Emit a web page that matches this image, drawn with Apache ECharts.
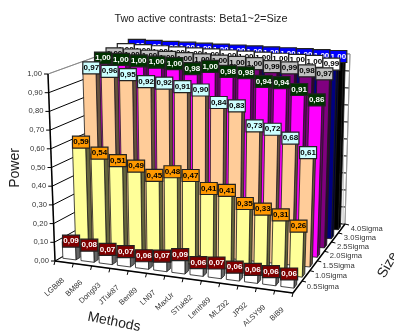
<!DOCTYPE html>
<html>
<head>
<meta charset="utf-8">
<style>
  html, body { margin: 0; padding: 0; background: #fff; }
  #main { width: 394px; height: 331px; }
</style>
<script src="https://cdn.jsdelivr.net/npm/echarts@6/dist/echarts.min.js"></script>
</head>
<body>
<div id="main"></div>
<script>
const methods = ['LGB88', 'BM86', 'Dong93', 'JTuk87', 'Ben89', 'LN97', 'MaxUr', 'STuk82', 'Lenth89', 'MLZ92', 'JP92', 'ALSY99', 'BiB9'];
const sizes = ['0.5Sigma', '1.0Sigma', '1.5Sigma', '2.0Sigma', '2.5Sigma', '3.0Sigma', '4.0Sigma'];
const yTicks = [0, 0.1, 0.2, 0.3, 0.4, 0.5, 0.6, 0.7, 0.8, 0.9, 1];

const size05 = [0.09, 0.08, 0.07, 0.07, 0.06, 0.07, 0.09, 0.06, 0.07, 0.06, 0.06, 0.06, 0.06];
const size10 = [0.59, 0.54, 0.51, 0.49, 0.45, 0.48, 0.47, 0.41, 0.41, 0.35, 0.33, 0.31, 0.26];
const size15 = [0.97, 0.96, 0.95, 0.92, 0.92, 0.91, 0.90, 0.84, 0.83, 0.73, 0.72, 0.68, 0.61];
const size20 = [1, 1, 1, 1, 1, 0.98, 1, 0.98, 0.98, 0.94, 0.94, 0.91, 0.86];
const size25 = [1, 1, 1, 1, 1, 1, 1, 1, 1, 0.99, 0.99, 0.98, 0.97];
const size30 = [1, 1, 1, 1, 1, 1, 1, 1, 1, 1, 1, 1, 0.99];
const size40 = [1, 1, 1, 1, 1, 1, 1, 1, 1, 1, 1, 1, 1];
const sizeValues = [size05, size10, size15, size20, size25, size30, size40];

const barColors = ['#ffffff', '#ffff99', '#ffcc99', '#ff00ff', '#800080', '#000080', '#000000'];
const labelColors = ['#800000', '#ff9900', '#ccffff', '#003300', '#c0c0c0', '#ffffff', '#0000ff'];
const labelTextColors = ['#ffffff', '#000000', '#000000', '#ffffff', '#000000', '#000000', '#ffffff'];

// corners of the 3d box on screen: floor and top plane
const floor = { fl: [55, 261], fr: [293, 293], br: [345, 224], bl: [136, 214] };
const roof = { fl: [48, 74], fr: [299, 100], br: [350, 54], bl: [134, 43] };

const mix = (a, b, t) => [a[0] + (b[0] - a[0]) * t, a[1] + (b[1] - a[1]) * t];

// u along methods, w along sizes, h along power, all 0..1
function project(u, w, h) {
  const d = Math.pow(w, 0.9); // far rows sit closer together
  const low = mix(mix(floor.fl, floor.fr, u), mix(floor.bl, floor.br, u), d);
  const high = mix(mix(roof.fl, roof.fr, u), mix(roof.bl, roof.br, u), d);
  return mix(low, high, h);
}

function toUnit(params, api, i, v) {
  const p = api.coord([i, v]);
  const rect = params.coordSys;
  return [(p[0] - rect.x) / rect.width, (rect.y + rect.height - p[1]) / rect.height];
}

function shade(color, f) {
  const c = echarts.color.parse(color);
  return 'rgb(' + [c[0] * f, c[1] * f, c[2] * f].map(Math.round).join(',') + ')';
}

function face(points, fill) {
  return {
    type: 'polygon',
    shape: { points: points },
    style: { fill: fill, stroke: '#1a1a1a', lineWidth: 0.8 }
  };
}

function renderBar(row) {
  return function (params, api) {
    const i = api.value(0);
    const [uc, h] = toUnit(params, api, i, api.value(1));
    const half = 0.36 / methods.length;
    const u0 = uc - half, u1 = uc + half;
    const w0 = (row + 0.34) / sizes.length, w1 = (row + 0.66) / sizes.length;
    const color = barColors[row];
    return {
      type: 'group',
      children: [
        face([project(u1, w0, 0), project(u1, w1, 0), project(u1, w1, h), project(u1, w0, h)], shade(color, 0.4)),
        face([project(u0, w0, h), project(u1, w0, h), project(u1, w1, h), project(u0, w1, h)], shade(color, 0.8)),
        face([project(u0, w0, 0), project(u1, w0, 0), project(u1, w0, h), project(u0, w0, h)], color)
      ]
    };
  };
}

function renderLabel(row) {
  return function (params, api) {
    const i = api.value(0);
    const v = api.value(1);
    const [uc, h] = toUnit(params, api, i, v);
    const p = project(uc, (row + 0.5) / sizes.length, h);
    const x = p[0], y = p[1];
    return {
      type: 'group',
      children: [
        {
          type: 'rect',
          shape: { x: x - 8.5, y: y - 6, width: 17, height: 12 },
          style: { fill: labelColors[row], stroke: '#222', lineWidth: 1.2 }
        },
        {
          type: 'text',
          x: x,
          y: y,
          style: {
            text: v.toFixed(2).replace('.', ','),
            align: 'center',
            verticalAlign: 'middle',
            fill: labelTextColors[row],
            font: 'bold 8px "Liberation Sans"'
          }
        }
      ]
    };
  };
}

function line(a, b, stroke, width) {
  return {
    type: 'line',
    shape: { x1: a[0], y1: a[1], x2: b[0], y2: b[1] },
    style: { stroke: stroke, lineWidth: width }
  };
}

function tickText(text, x, y, align, rotation) {
  return {
    type: 'text',
    x: x,
    y: y,
    rotation: rotation || 0,
    style: { text: text, align: align, verticalAlign: 'middle', fill: '#333', font: '7.6px "Liberation Sans"' }
  };
}

// walls, grid lines and the three axes
function renderFrame(params, api) {
  const children = [
    face([project(0, 0, 0), project(0, 1, 0), project(1, 1, 0), project(1, 0, 0)], '#ffffff'),
    face([project(0, 0, 0), project(0, 1, 0), project(0, 1, 1), project(0, 0, 1)], '#ffffff'),
    face([project(0, 1, 0), project(1, 1, 0), project(1, 1, 1), project(0, 1, 1)], '#ffffff')
  ];
  children.forEach(function (c) { c.style.stroke = '#999'; });

  yTicks.forEach(function (t) {
    const h = toUnit(params, api, 0, t)[1];
    const a = project(0, 0, h), b = project(0, 1, h), c = project(1, 1, h);
    const top = t === 1;
    children.push(line(a, b, top ? '#888' : '#000', 1));
    children.push(line(b, c, top ? '#888' : '#000', 1));
    children.push(line([a[0] - 4, a[1]], a, '#000', 1));
    children.push(tickText(t.toFixed(2).replace('.', ','), a[0] - 6, a[1], 'right'));
  });
  children.push(line(project(1, 1, 0), project(1, 1, 1), '#999', 1));
  const rightEdge = project(1, 1, 1);
  children.push(line([rightEdge[0] - 6, rightEdge[1] + 1], [rightEdge[0] - 7, rightEdge[1] + 170], '#bbb', 1));

  children.push(line(project(0, 0, 0), project(0, 0, 1), '#000', 1.5));
  children.push(line(project(0, 0, 0), project(1, 0, 0), '#000', 1.5));
  children.push(line(project(1, 0, 0), project(1, 1, 0), '#000', 1.5));

  methods.forEach(function (name, i) {
    const band = 1 / methods.length;
    const a = project(i * band, 0, 0);
    children.push(line(a, [a[0] - 1, a[1] + 4], '#000', 1));
    const p = project(toUnit(params, api, i, 0)[0], 0, 0);
    children.push(tickText(name, p[0] - 1, p[1] + 17, 'right', Math.PI / 4.2));
  });
  const last = project(1, 0, 0);
  children.push(line(last, [last[0] - 1, last[1] + 4], '#000', 1));

  sizes.forEach(function (name, j) {
    const a = project(1, (j + 1) / sizes.length, 0);
    children.push(line(a, [a[0] + 4, a[1] + 1], '#000', 1));
    const p = project(1, (j + 0.5) / sizes.length, 0);
    children.push(tickText(name, p[0] + 9, p[1], 'left'));
  });

  return { type: 'group', children: children };
}

const series = [{
  type: 'custom',
  name: 'frame',
  renderItem: renderFrame,
  data: [[0, 0]],
  silent: true,
  z: 1
}];

// far rows first so the near ones cover them
for (let row = sizes.length - 1; row >= 0; row--) {
  series.push({
    type: 'custom',
    name: sizes[row],
    renderItem: renderBar(row),
    data: sizeValues[row].map((v, i) => [i, v]),
    encode: { x: 0, y: 1 },
    silent: true,
    z: 2
  });
}
for (let row = sizes.length - 1; row >= 0; row--) {
  series.push({
    type: 'custom',
    name: sizes[row] + ' labels',
    renderItem: renderLabel(row),
    data: sizeValues[row].map((v, i) => [i, v]),
    encode: { x: 0, y: 1 },
    silent: true,
    z: 3
  });
}

const option = {
  animation: false,
  backgroundColor: '#fff',
  title: {
    text: 'Two active contrasts: Beta1~2=Size',
    left: 196,
    top: 8,
    textAlign: 'center',
    textStyle: { fontFamily: 'Liberation Sans', fontSize: 10.9, fontWeight: 'normal', color: '#222' }
  },
  grid: { left: 0, right: 0, top: 0, bottom: 0 },
  xAxis: { type: 'category', data: methods, show: false },
  yAxis: { type: 'value', min: 0, max: 1, interval: 0.1, show: false },
  series: series,
  graphic: [
    { type: 'text', x: 15, y: 168, rotation: Math.PI / 2, style: { text: 'Power', align: 'center', verticalAlign: 'middle', fill: '#222', font: '14px "Liberation Sans"' } },
    { type: 'text', x: 114, y: 322, rotation: -0.2, style: { text: 'Methods', align: 'center', verticalAlign: 'middle', fill: '#222', font: '14px "Liberation Sans"' } },
    { type: 'text', x: 388, y: 265, rotation: 1.05, style: { text: 'Size', align: 'center', verticalAlign: 'middle', fill: '#222', font: '14px "Liberation Sans"' } }
  ]
};

const myChart = echarts.init(document.getElementById('main'));
myChart.setOption(option);
</script>
</body>
</html>
